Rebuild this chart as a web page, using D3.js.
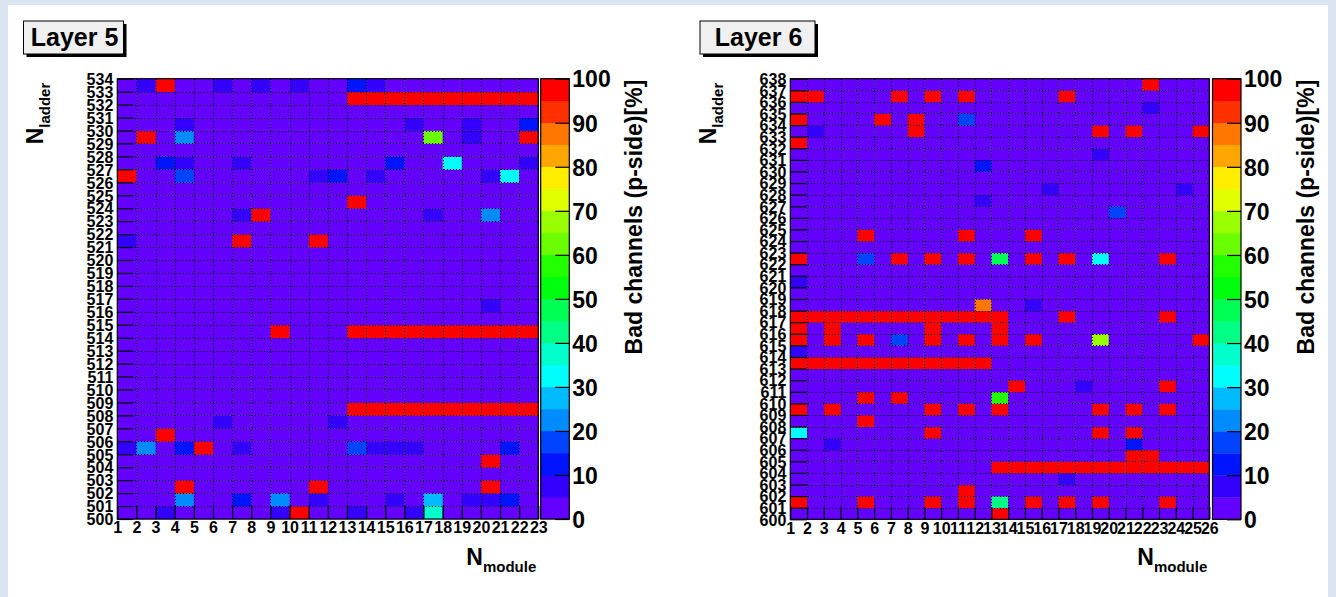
<!DOCTYPE html>
<html><head><meta charset="utf-8">
<script src="https://cdn.jsdelivr.net/npm/d3@7"></script>
<style>html,body{margin:0;padding:0;background:#dbe4f1;} svg{display:block;}</style>
</head><body><svg id="c" width="1336" height="597"></svg>
<script>
// ---------------- DATA ----------------
const layer5XTicks = [1,2,3,4,5,6,7,8,9,10,11,12,13,14,15,16,17,18,19,20,21,22,23];
const layer5YTicks = [500,501,502,503,504,505,506,507,508,509,510,511,512,513,514,515,516,517,518,519,520,521,522,523,524,525,526,527,528,529,530,531,532,533,534];
const layer6XTicks = [1,2,3,4,5,6,7,8,9,10,11,12,13,14,15,16,17,18,19,20,21,22,23,24,25,26];
const layer6YTicks = [600,601,602,603,604,605,606,607,608,609,610,611,612,613,614,615,616,617,618,619,620,621,622,623,624,625,626,627,628,629,630,631,632,633,634,635,636,637,638];
const colorTicks = [0,10,20,30,40,50,60,70,80,90,100];
// bad-channel fraction [%] of every cell not listed below
const layer5Background = [2];
const layer6Background = [2];
// [module, ladder, bad channels %]
const layer5Cells = [
  [2,533,8],[3,533,98],[6,533,8],[8,533,8],[10,533,8],[13,533,13],[14,533,8],
  [13,532,98],[14,532,98],[15,532,98],[16,532,98],[17,532,98],[18,532,98],[19,532,98],[20,532,98],[21,532,98],[22,532,98],
  [4,530,8],[16,530,8],[19,530,8],[22,530,13],
  [2,529,98],[4,529,23],[17,529,62],[19,529,8],[22,529,98],
  [3,527,13],[4,527,8],[7,527,8],[15,527,13],[18,527,33],[22,527,8],
  [1,526,98],[4,526,18],[11,526,8],[12,526,13],[14,526,8],[20,526,8],[21,526,33],
  [13,524,98],
  [7,523,8],[8,523,98],[17,523,8],[20,523,22],
  [1,521,8],[7,521,98],[11,521,98],
  [20,516,8],
  [9,514,98],[13,514,98],[14,514,98],[15,514,98],[16,514,98],[17,514,98],[18,514,98],[19,514,98],[20,514,98],[21,514,98],[22,514,98],
  [13,508,98],[14,508,98],[15,508,98],[16,508,98],[17,508,98],[18,508,98],[19,508,98],[20,508,98],[21,508,98],[22,508,98],
  [6,507,8],[12,507,8],
  [3,506,98],
  [1,505,8],[2,505,22],[4,505,13],[5,505,98],[7,505,8],[13,505,18],[14,505,8],[15,505,8],[16,505,8],[21,505,13],
  [20,504,98],
  [4,502,98],[11,502,98],[20,502,98],
  [4,501,23],[7,501,13],[9,501,23],[11,501,8],[15,501,8],[17,501,28],[19,501,8],[20,501,8],[21,501,13],
  [3,500,8],[9,500,8],[10,500,98],[13,500,8],[16,500,8],[17,500,38]
];
const layer6Cells = [
  [22,637,98],
  [1,636,98],[2,636,98],[7,636,98],[9,636,98],[11,636,98],[17,636,98],
  [22,635,8],
  [1,634,98],[6,634,98],[8,634,98],[11,634,18],
  [2,633,8],[8,633,98],[19,633,98],[21,633,98],[25,633,98],
  [1,632,98],
  [19,631,8],
  [12,630,13],
  [16,628,8],[24,628,8],
  [12,627,8],
  [20,626,18],
  [5,624,98],[11,624,98],[15,624,98],
  [1,622,98],[5,622,18],[7,622,98],[9,622,98],[11,622,98],[13,622,47],[15,622,98],[17,622,98],[19,622,33],[23,622,98],
  [1,620,8],
  [12,618,87],[15,618,8],
  [1,617,98],[2,617,98],[3,617,98],[4,617,98],[5,617,98],[6,617,98],[7,617,98],[8,617,98],[9,617,98],[10,617,98],[11,617,98],[12,617,98],[13,617,98],[17,617,98],[23,617,98],
  [1,616,98],[3,616,98],[9,616,98],[13,616,98],
  [1,615,98],[3,615,98],[5,615,98],[7,615,18],[9,615,98],[11,615,98],[13,615,98],[15,615,98],[19,615,67],[25,615,98],
  [1,614,8],
  [1,613,98],[2,613,98],[3,613,98],[4,613,98],[5,613,98],[6,613,98],[7,613,98],[8,613,98],[9,613,98],[10,613,98],[11,613,98],[12,613,98],
  [14,611,98],[18,611,8],[23,611,98],
  [5,610,98],[7,610,98],[13,610,57],
  [1,609,98],[3,609,98],[9,609,98],[11,609,98],[13,609,98],[19,609,98],[21,609,98],[23,609,98],
  [5,608,98],
  [1,607,33],[9,607,98],[19,607,98],[21,607,98],
  [3,606,8],[21,606,13],
  [21,605,98],[22,605,98],
  [13,604,98],[14,604,98],[15,604,98],[16,604,98],[17,604,98],[18,604,98],[19,604,98],[20,604,98],[21,604,98],[22,604,98],[23,604,98],[24,604,98],[25,604,98],
  [17,603,8],
  [11,602,98],
  [1,601,98],[5,601,98],[9,601,98],[11,601,98],[13,601,42],[15,601,98],[17,601,98],[19,601,98],[23,601,98],
  [13,600,98]
];
const titles = ["Layer 5", "Layer 6"];
const zTitle = "Bad channels (p-side)[%]";

// ---------------- DRAWING ----------------
const svg = d3.select("#c");
const FONT = "'Liberation Sans', Arial, Helvetica, sans-serif";
svg.append("rect").attr("x",8).attr("y",5).attr("width",1320).attr("height",592).attr("fill","#ffffff");

// ROOT "pretty" palette, 20 contours
const nCont = 20;
function binColor(k){
  const idx = Math.floor((k+0.99)*50/nCont);
  const hue = 280 - (idx+1)*5.6;
  return d3.hsl(hue,1,0.5).formatHex();
}
const zColor = v => binColor(Math.max(0, Math.min(nCont-1, Math.floor(v/100*nCont))));
const px = v => Math.round(v) + 0.5;

function panel(o){
  const g = svg.append("g");
  const x = d3.scaleLinear().domain([o.xt[0], o.xt[o.xt.length-1]]).range([o.x0, o.x1]);
  const y = d3.scaleLinear().domain([o.yt[0], o.yt[o.yt.length-1]]).range([o.y1, o.y0]);
  const map = new Map(o.cells.map(c => [c[0]+"_"+c[1], c[2]]));
  const grid = [];
  o.xt.slice(0,-1).forEach(m => o.yt.slice(0,-1).forEach(l => {
    const k = m+"_"+l;
    grid.push({m, l, v: map.has(k) ? map.get(k) : o.base[0]});
  }));
  g.append("g").selectAll("rect").data(grid).join("rect")
    .attr("x", d => x(d.m)).attr("y", d => y(d.l+1))
    .attr("width", d => x(d.m+1)-x(d.m)+0.4).attr("height", d => y(d.l)-y(d.l+1)+0.4)
    .attr("fill", d => zColor(d.v));
  // dotted grid
  const gg = g.append("g").attr("stroke","#000").attr("stroke-width",1).attr("stroke-dasharray","1,2")
    .attr("shape-rendering","crispEdges");
  gg.selectAll("line.v").data(o.xt.slice(1,-1)).join("line")
    .attr("x1", d=>px(x(d))).attr("x2", d=>px(x(d))).attr("y1", o.y0).attr("y2", o.y1);
  gg.selectAll("line.h").data(o.yt.slice(1,-1)).join("line")
    .attr("y1", d=>px(y(d))).attr("y2", d=>px(y(d))).attr("x1", o.x0).attr("x2", o.x1);
  // axes
  const ax = g.append("g").attr("transform",`translate(0,${o.y1})`)
    .call(d3.axisBottom(x).tickValues(o.xt).tickSize(-o.xtick).tickSizeOuter(0).tickPadding(3).tickFormat(d3.format("d")));
  const ay = g.append("g").attr("transform",`translate(${o.x0},0)`)
    .call(d3.axisLeft(y).tickValues(o.yt).tickSize(-o.ytick).tickSizeOuter(0).tickPadding(4).tickFormat(d3.format("d")));
  [ax, ay].forEach(a => {
    a.selectAll("path").remove();
    a.selectAll("line").attr("stroke","#000").attr("stroke-width",1.2);
    a.selectAll("text").attr("font-family",FONT).attr("font-weight","bold").attr("font-size",16).attr("fill","#000");
  });
  ay.selectAll("text").attr("dy","0.36em");
  g.append("rect").attr("x",o.x0).attr("y",o.y0).attr("width",o.x1-o.x0).attr("height",o.y1-o.y0)
    .attr("fill","none").attr("stroke","#000").attr("stroke-width",1.2);
  // colour bar
  const z = d3.scaleLinear().domain([0,100]).range([o.y1, o.y0]);
  const bins = d3.range(nCont);
  g.append("g").selectAll("rect").data(bins).join("rect")
    .attr("x", o.cx0).attr("width", o.cx1-o.cx0)
    .attr("y", k => z((k+1)*100/nCont)).attr("height", k => z(k*100/nCont)-z((k+1)*100/nCont)+0.3)
    .attr("fill", k => binColor(k));
  g.append("rect").attr("x",o.cx0).attr("y",o.y0).attr("width",o.cx1-o.cx0).attr("height",o.y1-o.y0)
    .attr("fill","none").attr("stroke","#000").attr("stroke-width",1.2);
  const az = g.append("g").attr("transform",`translate(${o.cx1},0)`)
    .call(d3.axisRight(z).tickValues(colorTicks).tickSize(-14).tickSizeOuter(0).tickPadding(3).tickFormat(d3.format("d")));
  az.selectAll("path").remove();
  az.selectAll("line").attr("stroke","#000").attr("stroke-width",1.2);
  az.selectAll("text").attr("font-family",FONT).attr("font-weight","bold").attr("font-size",23).attr("fill","#000").attr("dy","0.36em");
  // z title
  g.append("text").attr("transform",`translate(${o.cx1+73},${o.y0+1}) rotate(-90)`)
    .attr("text-anchor","end").attr("font-family",FONT).attr("font-weight","bold").attr("font-size",23)
    .text(o.ztitle);
  // x title
  const xt = g.append("text").attr("x",o.x1-2).attr("y",565).attr("text-anchor","end")
    .attr("font-family",FONT).attr("font-weight","bold").attr("font-size",23).text("N");
  xt.append("tspan").attr("dy",7).attr("font-size",15).text("module");
  // y title
  const yt = g.append("text").attr("transform",`translate(${o.x0-74},${o.y0+4}) rotate(-90)`).attr("text-anchor","end")
    .attr("font-family",FONT).attr("font-weight","bold").attr("font-size",23).text("N");
  yt.append("tspan").attr("dy",7).attr("font-size",15).text("ladder");
  // title box
  const tb = g.append("g").attr("transform",`translate(${o.tx},${o.ty})`);
  tb.append("rect").attr("x",3).attr("y",3).attr("width",o.tw).attr("height",33).attr("fill","#000");
  tb.append("rect").attr("x",0).attr("y",0).attr("width",o.tw).attr("height",33).attr("fill","#f0f0f0").attr("stroke","#000").attr("stroke-width",1);
  tb.append("text").attr("x",o.tw/2+1).attr("y",24.5).attr("text-anchor","middle")
    .attr("font-family",FONT).attr("font-weight","bold").attr("font-size",25).text(o.title);
}

panel({xt:layer5XTicks, yt:layer5YTicks, cells:layer5Cells, base:layer5Background,
  x0:117.3, x1:538.3, y0:78.7, y1:519, cx0:540.7, cx1:569.3, xtick:13, ytick:16,
  tx:23.5, ty:21, tw:100, title:titles[0], ztitle:zTitle});
panel({xt:layer6XTicks, yt:layer6YTicks, cells:layer6Cells, base:layer6Background,
  x0:790.3, x1:1209.3, y0:78.7, y1:519.3, cx0:1212.5, cx1:1241, xtick:12, ytick:16.5,
  tx:700, ty:21, tw:115, title:titles[1], ztitle:zTitle});
</script></body></html>
